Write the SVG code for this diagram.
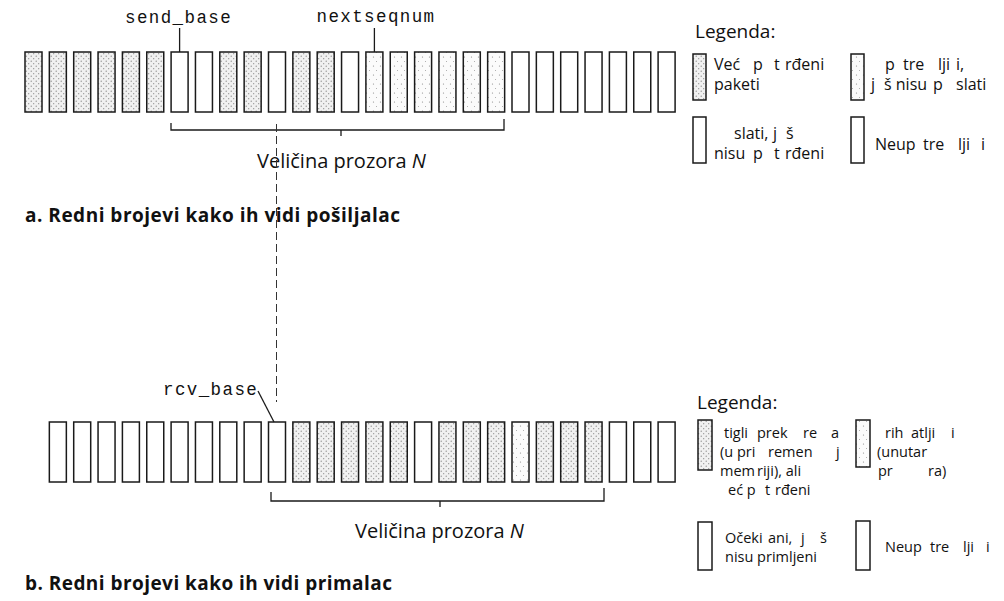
<svg xmlns="http://www.w3.org/2000/svg" width="1004" height="601" viewBox="0 0 1004 601">
<defs>
<pattern id="dense" width="5" height="5" patternUnits="userSpaceOnUse"><rect width="5" height="5" fill="#f1f1f1"/><circle cx="1.2" cy="1.2" r="0.6" fill="#7a7a7a"/><circle cx="3.7" cy="3.7" r="0.6" fill="#8a8a8a"/></pattern>
<pattern id="sparse" width="7" height="9" patternUnits="userSpaceOnUse"><rect width="7" height="9" fill="#fbfbfb"/><circle cx="2.5" cy="3" r="0.6" fill="#888"/><circle cx="5.5" cy="7.5" r="0.5" fill="#999"/></pattern>
<style>
.box{stroke:#1a1a1a;stroke-width:1.5;fill:#fff}
.d{fill:url(#dense)}
.s{fill:url(#sparse)}
.mono{font-family:"Liberation Mono","Courier New",monospace;font-size:17.5px;letter-spacing:1.4px;fill:#111}
.lbl{font-family:"Open Sans","Noto Sans",sans-serif;font-size:20px;fill:#111}
.leghd{font-family:"Open Sans","Noto Sans",sans-serif;font-size:19px;fill:#111}
.title{font-family:"Open Sans","Noto Sans",sans-serif;font-weight:bold;font-size:19px;fill:#111}
.leg{font-family:"Open Sans","Noto Sans",sans-serif;font-size:16px;fill:#111}
.legb{font-family:"Open Sans","Noto Sans",sans-serif;font-size:14.5px;fill:#111}
.ln{stroke:#1a1a1a;stroke-width:1.3;fill:none}
.dash{stroke:#333;stroke-width:1;stroke-dasharray:8 4;fill:none}
</style>
</defs>
<rect width="1004" height="601" fill="#fff"/>

<!-- Sender row -->
<g id="sender-row">
<g id="s0"><rect class="box d" x="25" y="52" width="17" height="60"/></g>
<g id="s1"><rect class="box d" x="49.35" y="52" width="17" height="60"/></g>
<g id="s2"><rect class="box d" x="73.7" y="52" width="17" height="60"/></g>
<g id="s3"><rect class="box d" x="98.05" y="52" width="17" height="60"/></g>
<g id="s4"><rect class="box d" x="122.4" y="52" width="17" height="60"/></g>
<g id="s5"><rect class="box d" x="146.75" y="52" width="17" height="60"/></g>
<g id="s6"><rect class="box" x="171.1" y="52" width="17" height="60"/></g>
<g id="s7"><rect class="box" x="195.45" y="52" width="17" height="60"/></g>
<g id="s8"><rect class="box d" x="219.8" y="52" width="17" height="60"/></g>
<g id="s9"><rect class="box d" x="244.15" y="52" width="17" height="60"/></g>
<g id="s10"><rect class="box" x="268.5" y="52" width="17" height="60"/></g>
<g id="s11"><rect class="box d" x="292.85" y="52" width="17" height="60"/></g>
<g id="s12"><rect class="box d" x="317.2" y="52" width="17" height="60"/></g>
<g id="s13"><rect class="box" x="341.55" y="52" width="17" height="60"/></g>
<g id="s14"><rect class="box s" x="365.9" y="52" width="17" height="60"/></g>
<g id="s15"><rect class="box s" x="390.25" y="52" width="17" height="60"/></g>
<g id="s16"><rect class="box s" x="414.6" y="52" width="17" height="60"/></g>
<g id="s17"><rect class="box s" x="438.95" y="52" width="17" height="60"/></g>
<g id="s18"><rect class="box s" x="463.3" y="52" width="17" height="60"/></g>
<g id="s19"><rect class="box s" x="487.65" y="52" width="17" height="60"/></g>
<g id="s20"><rect class="box" x="512" y="52" width="17" height="60"/></g>
<g id="s21"><rect class="box" x="536.35" y="52" width="17" height="60"/></g>
<g id="s22"><rect class="box" x="560.7" y="52" width="17" height="60"/></g>
<g id="s23"><rect class="box" x="585.05" y="52" width="17" height="60"/></g>
<g id="s24"><rect class="box" x="609.4" y="52" width="17" height="60"/></g>
<g id="s25"><rect class="box" x="633.75" y="52" width="17" height="60"/></g>
<g id="s26"><rect class="box" x="658.1" y="52" width="17" height="60"/></g>
</g>

<!-- Receiver row -->
<g id="receiver-row">
<g id="r1"><rect class="box" x="49.35" y="422" width="17" height="60"/></g>
<g id="r2"><rect class="box" x="73.7" y="422" width="17" height="60"/></g>
<g id="r3"><rect class="box" x="98.05" y="422" width="17" height="60"/></g>
<g id="r4"><rect class="box" x="122.4" y="422" width="17" height="60"/></g>
<g id="r5"><rect class="box" x="146.75" y="422" width="17" height="60"/></g>
<g id="r6"><rect class="box" x="171.1" y="422" width="17" height="60"/></g>
<g id="r7"><rect class="box" x="195.45" y="422" width="17" height="60"/></g>
<g id="r8"><rect class="box" x="219.8" y="422" width="17" height="60"/></g>
<g id="r9"><rect class="box" x="244.15" y="422" width="17" height="60"/></g>
<g id="r10"><rect class="box" x="268.5" y="422" width="17" height="60"/></g>
<g id="r11"><rect class="box d" x="292.85" y="422" width="17" height="60"/></g>
<g id="r12"><rect class="box d" x="317.2" y="422" width="17" height="60"/></g>
<g id="r13"><rect class="box d" x="341.55" y="422" width="17" height="60"/></g>
<g id="r14"><rect class="box d" x="365.9" y="422" width="17" height="60"/></g>
<g id="r15"><rect class="box d" x="390.25" y="422" width="17" height="60"/></g>
<g id="r16"><rect class="box" x="414.6" y="422" width="17" height="60"/></g>
<g id="r17"><rect class="box d" x="438.95" y="422" width="17" height="60"/></g>
<g id="r18"><rect class="box d" x="463.3" y="422" width="17" height="60"/></g>
<g id="r19"><rect class="box d" x="487.65" y="422" width="17" height="60"/></g>
<g id="r20"><rect class="box s" x="512" y="422" width="17" height="60"/></g>
<g id="r21"><rect class="box d" x="536.35" y="422" width="17" height="60"/></g>
<g id="r22"><rect class="box d" x="560.7" y="422" width="17" height="60"/></g>
<g id="r23"><rect class="box d" x="585.05" y="422" width="17" height="60"/></g>
<g id="r24"><rect class="box" x="609.4" y="422" width="17" height="60"/></g>
<g id="r25"><rect class="box" x="633.75" y="422" width="17" height="60"/></g>
<g id="r26"><rect class="box" x="658.1" y="422" width="17" height="60"/></g>
</g>

<!-- Labels -->
<g id="send-base-label"><text class="mono" x="125" y="23">send_base</text></g>
<g id="nextseqnum-label"><text class="mono" x="316.5" y="22">nextseqnum</text></g>
<g id="rcv-base-label"><text class="mono" x="163" y="395">rcv_base</text></g>
<g id="window-a"><text class="lbl" x="257" y="168">Veličina prozora <tspan font-style="italic">N</tspan></text></g>
<g id="window-b"><text class="lbl" x="355" y="538">Veličina prozora <tspan font-style="italic">N</tspan></text></g>
<g id="title-a"><text class="title" x="25" y="222" textLength="375" lengthAdjust="spacing">a. Redni brojevi kako ih vidi pošiljalac</text></g>
<g id="title-b"><text class="title" x="25" y="590" textLength="367" lengthAdjust="spacing">b. Redni brojevi kako ih vidi primalac</text></g>

<!-- Connectors -->
<g id="connectors">
<line class="ln" x1="179.6" y1="28" x2="179.6" y2="52"/>
<line class="ln" x1="374.4" y1="28" x2="374.4" y2="52"/>
<line class="ln" x1="258" y1="391" x2="274" y2="422"/>
<path class="ln" d="M171 123 V130 H504 V119"/>
<line class="ln" x1="341" y1="130" x2="341" y2="136"/>
<path class="ln" d="M271 492 V501 H604 V488"/>
<line class="ln" x1="440" y1="501" x2="440" y2="507"/>
<line class="dash" x1="276.5" y1="124" x2="276.5" y2="402"/>
</g>

<!-- Legend a -->
<g id="legend-a">
<text class="leghd" x="695" y="38">Legenda:</text>
<g id="la1"><rect class="box d" x="693" y="54" width="13" height="46"/>
<text class="leg" y="70"><tspan x="714">Već</tspan><tspan x="753">p</tspan><tspan x="774">t</tspan><tspan x="785">rđeni</tspan><tspan x="714" y="90">paketi</tspan></text></g>
<g id="la2"><rect class="box s" x="851" y="54" width="13" height="46"/>
<text class="leg" y="70"><tspan x="885">p</tspan><tspan x="903">tre</tspan><tspan x="938">lji</tspan><tspan x="956">i,</tspan><tspan x="871" y="90">j</tspan><tspan x="884">š nisu</tspan><tspan x="933">p</tspan><tspan x="956">slati</tspan></text></g>
<g id="la3"><rect class="box" x="693" y="117" width="13" height="46"/>
<text class="leg" y="139"><tspan x="734">slati,</tspan><tspan x="773">j</tspan><tspan x="786">š</tspan><tspan x="714" y="159">nisu</tspan><tspan x="753">p</tspan><tspan x="774">t</tspan><tspan x="785">rđeni</tspan></text></g>
<g id="la4"><rect class="box" x="851" y="117" width="13" height="46"/>
<text class="leg" y="150"><tspan x="875">Neup</tspan><tspan x="923">tre</tspan><tspan x="958">lji</tspan><tspan x="981">i</tspan></text></g>
</g>

<!-- Legend b -->
<g id="legend-b">
<text class="leghd" x="697" y="409">Legenda:</text>
<g id="lb1"><rect class="box d" x="698" y="420" width="14" height="50"/>
<text class="legb" y="438"><tspan x="724">tigli</tspan><tspan x="757">prek</tspan><tspan x="803">re</tspan><tspan x="831">a</tspan><tspan x="720" y="457">(u pri</tspan><tspan x="768">remen</tspan><tspan x="836">j</tspan><tspan x="720" y="476">mem</tspan><tspan x="757">riji), ali</tspan><tspan x="728" y="495">eć p</tspan><tspan x="765">t</tspan><tspan x="775">rđeni</tspan></text></g>
<g id="lb2"><rect class="box s" x="856" y="420" width="14" height="47"/>
<text class="legb" y="438"><tspan x="885">rih</tspan><tspan x="911">atlji</tspan><tspan x="951">i</tspan><tspan x="877" y="457">(unutar</tspan><tspan x="878" y="476">pr</tspan><tspan x="928">ra)</tspan></text></g>
<g id="lb3"><rect class="box" x="698" y="522" width="14" height="48"/>
<text class="legb" y="543"><tspan x="725">Očeki</tspan><tspan x="768">ani,</tspan><tspan x="801">j</tspan><tspan x="820">š</tspan><tspan x="725" y="562">nisu primljeni</tspan></text></g>
<g id="lb4"><rect class="box" x="856" y="521" width="14" height="49"/>
<text class="legb" y="552"><tspan x="885">Neup</tspan><tspan x="930">tre</tspan><tspan x="963">lji</tspan><tspan x="986">i</tspan></text></g>
</g>
</svg>
